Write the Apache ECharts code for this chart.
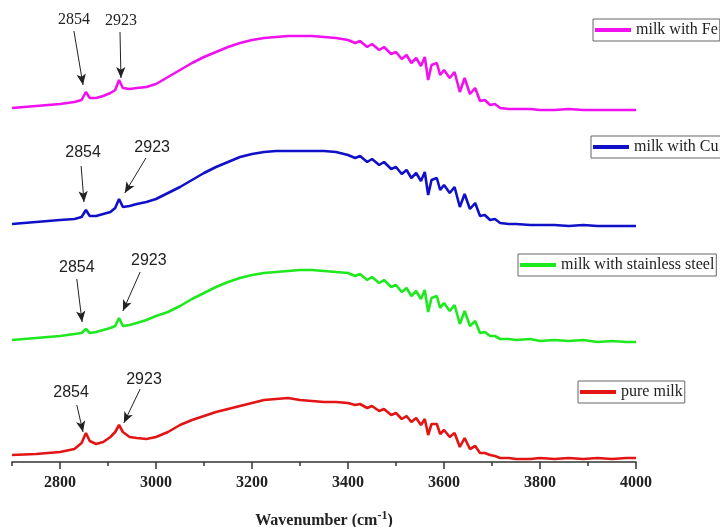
<!DOCTYPE html>
<html>
<head>
<meta charset="utf-8">
<script src="https://cdn.jsdelivr.net/npm/echarts@6/dist/echarts.min.js"></script>
<style>
    html, body { margin: 0; padding: 0; background: #fff; }
    #chart { width: 720px; height: 527px; }
</style>
</head>
<body>
<div id="chart"></div>
<script>
// wavenumbers (cm-1) shared by all four spectra
var wavenumbers = [2700, 2750, 2800, 2830, 2845, 2854, 2862, 2875, 2890, 2905, 2915, 2923, 2931, 2945, 2960, 2980,
    3000, 3025, 3050, 3075, 3100, 3125, 3150, 3175, 3200, 3225, 3250, 3275, 3300, 3325, 3350, 3375,
    3400, 3415, 3425, 3440, 3450, 3465, 3475, 3490, 3500, 3512, 3522, 3532, 3542, 3552, 3560, 3567,
    3574, 3585, 3592, 3600, 3612, 3622, 3633, 3643, 3654, 3665, 3675, 3685, 3696, 3706, 3717,
    3735, 3750, 3780, 3800, 3830, 3860, 3890, 3920, 3950, 3980, 4000];

// stacked intensities (a.u., offsets included)
var pureMilk = [7, 8, 10, 13, 19, 29, 21, 18, 20, 25, 30, 37, 30, 25, 24, 23,
    25, 30, 37, 42, 46, 50, 53, 56, 59, 62, 63, 64, 62, 61, 60, 60,
    59, 57, 58, 54, 56, 51, 53, 47, 49, 43, 46, 40, 44, 37, 43, 27,
    38, 38, 28, 32, 25, 29, 15, 24, 13, 16, 9, 9, 7, 6, 4,
    4, 3, 3, 4, 3, 4, 3, 4, 3, 4, 4];

var milkSteel = [122, 124, 126, 128, 129, 133, 129, 130, 132, 134, 136, 144, 136, 137, 139, 142,
    146, 150, 156, 163, 169, 175, 180, 184, 187, 189, 190, 191, 192, 192, 191, 190,
    189, 186, 188, 182, 185, 179, 182, 175, 177, 170, 174, 166, 171, 163, 172, 150,
    164, 166, 154, 159, 151, 157, 138, 151, 136, 141, 129, 130, 126, 126, 123,
    123, 122, 123, 121, 122, 121, 122, 120, 121, 120, 120];

var milkCu = [238, 240, 242, 243, 245, 252, 246, 246, 248, 250, 254, 263, 255, 256, 258, 260,
    263, 269, 275, 282, 289, 295, 300, 305, 308, 310, 311, 311, 311, 311, 311, 310,
    307, 304, 306, 300, 303, 297, 300, 293, 295, 288, 292, 284, 289, 281, 290, 267,
    282, 284, 272, 277, 269, 275, 255, 268, 253, 259, 246, 247, 242, 243, 239,
    238, 238, 237, 237, 237, 236, 237, 236, 236, 236, 236];

var milkFe = [354, 356, 358, 360, 362, 370, 364, 364, 366, 369, 372, 382, 374, 373, 374, 375,
    378, 385, 392, 399, 405, 410, 415, 419, 422, 424, 425, 426, 426, 426, 425, 424,
    422, 419, 421, 415, 418, 412, 415, 408, 410, 403, 407, 399, 404, 396, 405, 382,
    397, 399, 387, 392, 384, 390, 370, 384, 368, 374, 361, 362, 357, 358, 354,
    353, 353, 353, 352, 352, 353, 352, 352, 352, 352, 352];

var seriesNames = ["pure milk", "milk with stainless steel", "milk with Cu", "milk with Fe"];
var seriesColors = ["#e31414", "#1ee81e", "#1010c8", "#f010f0"];
var seriesValues = [pureMilk, milkSteel, milkCu, milkFe];

// peak labels: [label position, arrow tail, arrow head] in data coordinates
var peakNotes = [
    [[[2823, 69], [2835, 57], [2848, 30]], [[2975, 82], [2967, 73], [2933, 39]]],
    [[[2835, 194], [2835, 183], [2846, 140]], [[2985, 201], [2967, 190], [2931, 151]]],
    [[[2848, 309], [2844, 296], [2850, 260]], [[2992, 314], [2979, 304], [2935, 269]]],
    [[[2829, 442], [2829, 431], [2848, 377]], [[2927, 441], [2925, 430], [2927, 384]]]
];
var peakLabels = ["2854", "2923"];

var legendPos = [[578, 381], [518, 254], [591, 136], [593, 19]];

var chart = echarts.init(document.getElementById("chart"));

var series = seriesNames.map(function (name, i) {
    var notes = peakNotes[i];
    var labelFont = i === 3 ? "Liberation Serif" : "Liberation Sans";
    return {
        name: name,
        type: "line",
        symbol: "none",
        color: seriesColors[i],
        lineStyle: { width: 2.6, color: seriesColors[i] },
        data: wavenumbers.map(function (w, k) { return [w, seriesValues[i][k]]; }),
        markLine: {
            silent: true,
            symbol: ["none", "arrow"],
            symbolSize: [7, 11],
            lineStyle: { color: "#222", width: 1, type: "solid" },
            label: { show: false },
            data: notes.map(function (n) {
                return [{ coord: n[1] }, { coord: n[2] }];
            })
        },
        markPoint: {
            silent: true,
            symbol: "circle",
            symbolSize: 0,
            label: {
                show: true,
                position: "inside",
                color: "#222",
                fontSize: 16,
                fontFamily: labelFont
            },
            data: notes.map(function (n, j) {
                return { coord: n[0], value: peakLabels[j] };
            })
        }
    };
});

var legends = seriesNames.map(function (name, i) {
    return {
        data: [name],
        left: legendPos[i][0],
        top: legendPos[i][1],
        selectedMode: false,
        icon: "rect",
        itemWidth: 36,
        itemHeight: 4,
        padding: [2, 2, 2, 2],
        borderColor: "#666",
        borderWidth: 1,
        backgroundColor: "#fff",
        textStyle: {
            fontFamily: "Liberation Serif",
            fontSize: 16,
            lineHeight: 18,
            color: "#222"
        }
    };
});

var axisFont = "Liberation Serif";

let option = {
    animation: false,
    backgroundColor: "#fff",
    grid: {
        left: 12,
        right: 84,
        top: 10,
        bottom: 65,
        containLabel: false,
        outerBoundsMode: "none"
    },
    legend: legends,
    xAxis: [
        {
            type: "value",
            min: 2700,
            max: 4000,
            interval: 100,
            name: "{a|Wavenumber (cm}{b|-1}{a|)}",
            nameLocation: "middle",
            nameGap: 48,
            nameTextStyle: {
                rich: {
                    a: { fontFamily: axisFont, fontWeight: "bold", fontSize: 16, color: "#222" },
                    b: { fontFamily: axisFont, fontWeight: "bold", fontSize: 12, color: "#222", padding: [0, 0, 10, 0] }
                }
            },
            splitLine: { show: false },
            axisLine: { lineStyle: { color: "#333", width: 1.5 } },
            axisTick: { length: 4, lineStyle: { color: "#333", width: 1.5 } },
            axisLabel: {
                margin: 13,
                fontFamily: axisFont,
                fontWeight: "bold",
                fontSize: 16,
                color: "#222",
                formatter: function (v) { return v % 200 === 0 ? String(v) : ""; }
            }
        },
        {
            type: "value",
            min: 2700,
            max: 4000,
            position: "bottom",
            splitLine: { show: false },
            axisLine: { show: false },
            axisTick: {
                length: 7,
                customValues: [2800, 3000, 3200, 3400, 3600, 3800, 4000],
                lineStyle: { color: "#333", width: 1.5 }
            },
            axisLabel: { show: false }
        }
    ],
    yAxis: {
        type: "value",
        min: 0,
        max: 452,
        show: false
    },
    series: series
};

chart.setOption(option);
</script>
</body>
</html>
